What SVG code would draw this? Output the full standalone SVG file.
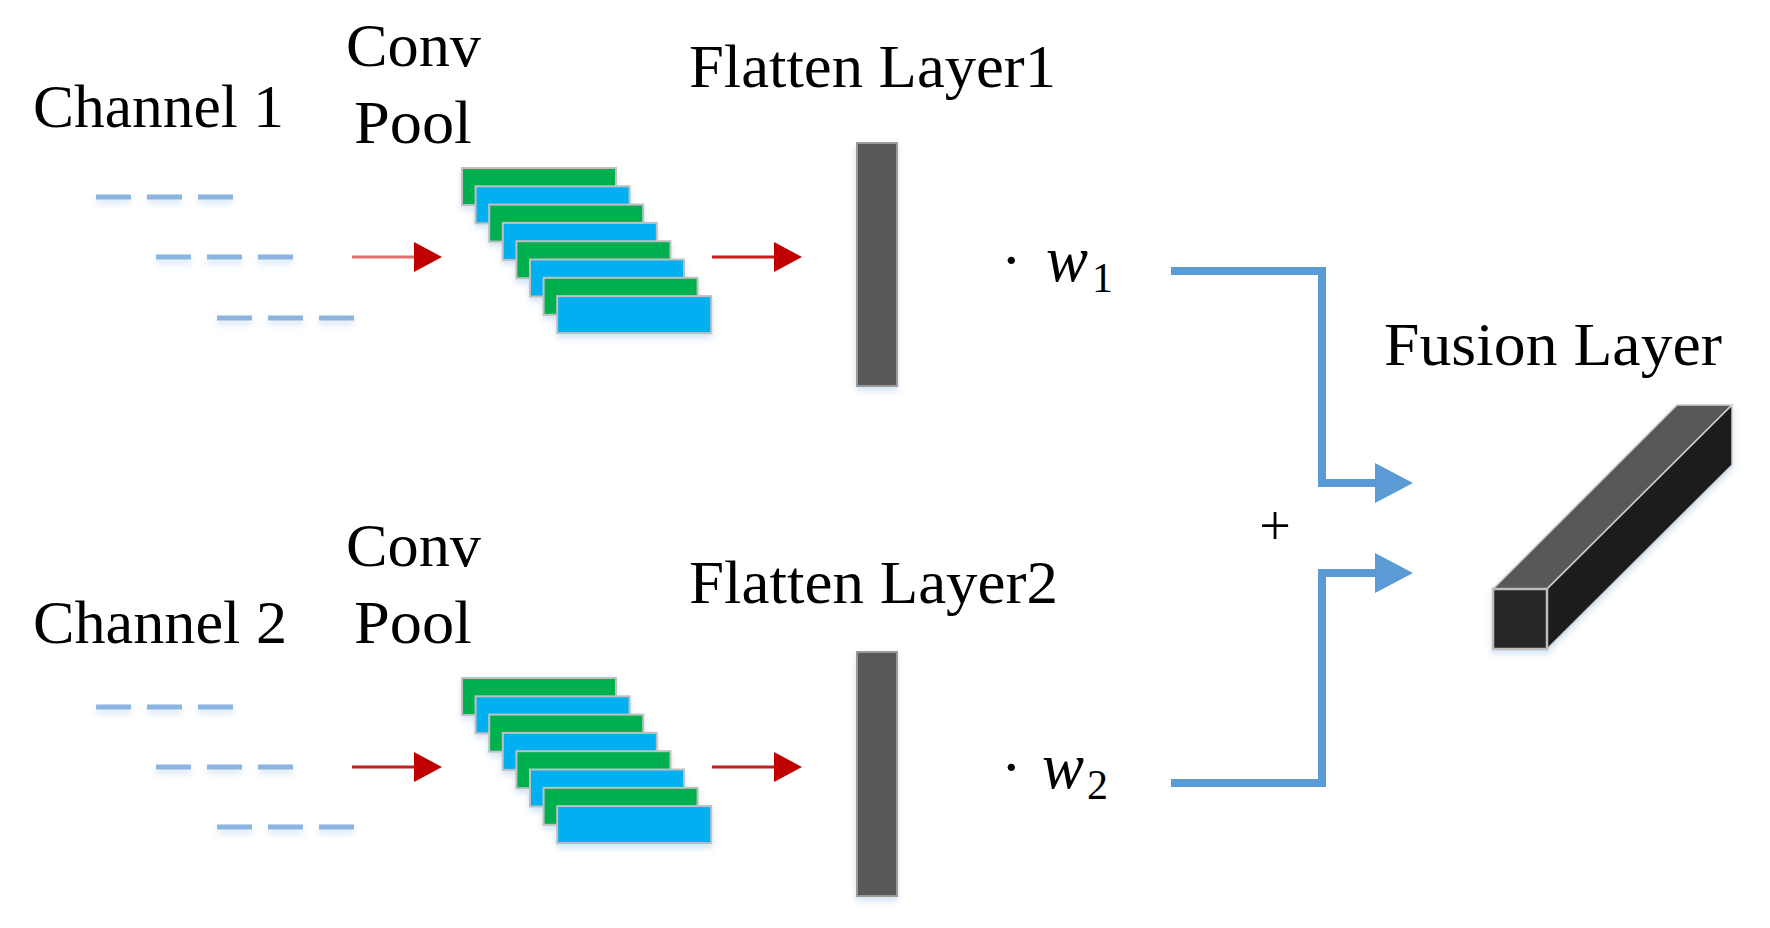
<svg xmlns="http://www.w3.org/2000/svg" width="1770" height="928" viewBox="0 0 1770 928">
<style>
.t{font-family:"Liberation Serif","Times New Roman",serif;font-size:62px;fill:#000}
.t.it{font-style:italic;font-size:66px}
.t.sub{font-size:42px}
.t.pl{font-size:56px}
.dash{stroke:#8cb4e0;stroke-width:5;stroke-dasharray:35 16;fill:none}
.g{fill:#00b050;stroke:#c0c0c0;stroke-width:2}
.b{fill:#00b0f0;stroke:#c0c0c0;stroke-width:2}
.bar{fill:#595959;stroke:#9a9a9a;stroke-width:2}
.red1{stroke:#e07070;stroke-width:3;fill:none;marker-end:url(#rh)}
.red2{stroke:#c81e1e;stroke-width:3;fill:none;marker-end:url(#rh)}
.blue{stroke:#5b9bd5;stroke-width:8;fill:none;marker-end:url(#bh)}
</style>
<defs>
<filter id="sh" x="-20%" y="-20%" width="140%" height="160%">
<feDropShadow dx="0" dy="4" stdDeviation="3" flood-color="#9dc3e6" flood-opacity="0.45"/>
</filter>
<marker id="rh" markerUnits="userSpaceOnUse" viewBox="0 0 28 30" markerWidth="28" markerHeight="30" refX="18" refY="15" orient="auto">
<path d="M0,0 L28,15 L0,30 z" fill="#c00000"/>
</marker>
<marker id="bh" markerUnits="userSpaceOnUse" viewBox="0 0 38 40" markerWidth="38" markerHeight="40" refX="15" refY="20" orient="auto">
<path d="M0,0 L38,20 L0,40 z" fill="#5b9bd5"/>
</marker>
<g id="stack">
<rect class="g" x="462" y="168" width="154" height="37"/>
<rect class="b" x="475.6" y="186.3" width="154" height="37"/>
<rect class="g" x="489.2" y="204.6" width="154" height="37"/>
<rect class="b" x="502.8" y="222.9" width="154" height="37"/>
<rect class="g" x="516.4" y="241.2" width="154" height="37"/>
<rect class="b" x="530" y="259.5" width="154" height="37"/>
<rect class="g" x="543.6" y="277.8" width="154" height="37"/>
<rect class="b" x="557.2" y="296.1" width="154" height="37"/>
</g>
</defs>

<g id="channel1">
<text class="t" x="33" y="127" textLength="251" lengthAdjust="spacingAndGlyphs">Channel 1</text>
<g filter="url(#sh)">
<line class="dash" x1="96" y1="197" x2="233" y2="197"/>
<line class="dash" x1="156" y1="257" x2="293" y2="257"/>
<line class="dash" x1="217" y1="318" x2="354" y2="318"/>
</g>
</g>
<g id="convpool1">
<text class="t" x="346" y="66" textLength="135" lengthAdjust="spacingAndGlyphs">Conv</text>
<text class="t" x="354" y="143" textLength="118" lengthAdjust="spacingAndGlyphs">Pool</text>
<use href="#stack" filter="url(#sh)"/>
</g>
<g id="flatten1">
<text class="t" x="689" y="87" textLength="367" lengthAdjust="spacingAndGlyphs">Flatten Layer1</text>
<rect class="bar" x="857" y="143" width="40" height="243" filter="url(#sh)"/>
</g>
<g id="weight1">
<text class="t" x="1001" y="281">·</text>
<text class="t it" x="1046" y="281" textLength="42" lengthAdjust="spacingAndGlyphs">w</text>
<text class="t sub" x="1092" y="292">1</text>
</g>

<g id="channel2">
<text class="t" x="33" y="643" textLength="254" lengthAdjust="spacingAndGlyphs">Channel 2</text>
<g filter="url(#sh)">
<line class="dash" x1="96" y1="707" x2="233" y2="707"/>
<line class="dash" x1="156" y1="767" x2="293" y2="767"/>
<line class="dash" x1="217" y1="827" x2="354" y2="827"/>
</g>
</g>
<g id="convpool2">
<text class="t" x="346" y="566" textLength="135" lengthAdjust="spacingAndGlyphs">Conv</text>
<text class="t" x="354" y="643" textLength="118" lengthAdjust="spacingAndGlyphs">Pool</text>
<use href="#stack" y="510" filter="url(#sh)"/>
</g>
<g id="flatten2">
<text class="t" x="689" y="603" textLength="369" lengthAdjust="spacingAndGlyphs">Flatten Layer2</text>
<rect class="bar" x="857" y="652" width="40" height="244" filter="url(#sh)"/>
</g>
<g id="weight2">
<text class="t" x="1001" y="788">·</text>
<text class="t it" x="1042" y="788" textLength="42" lengthAdjust="spacingAndGlyphs">w</text>
<text class="t sub" x="1087" y="799">2</text>
</g>

<g id="plus">
<text class="t pl" x="1275" y="545" text-anchor="middle">+</text>
</g>

<g id="fusion">
<text class="t" x="1384" y="365" textLength="338" lengthAdjust="spacingAndGlyphs">Fusion Layer</text>
<g filter="url(#sh)">
<polygon points="1493,589 1547,589 1732,405 1677,405" fill="#595959" stroke="#cfcfcf" stroke-width="1.5"/>
<polygon points="1547,589 1732,405 1732,465 1547,649" fill="#1e1e1e" stroke="#cfcfcf" stroke-width="1.5"/>
<rect x="1493" y="589" width="54" height="60" fill="#262626" stroke="#bdbdbd" stroke-width="2.5"/>
</g>
</g>

<g id="connectors">
<path class="red1" d="M352 257 H432"/>
<path class="red2" d="M712 257 H792"/>
<path class="red2" d="M352 767 H432"/>
<path class="red2" d="M712 767 H792"/>
<path class="blue" d="M1171 271 H1322 V483 H1390"/>
<path class="blue" d="M1171 783 H1322 V573 H1390"/>
</g>
</svg>
